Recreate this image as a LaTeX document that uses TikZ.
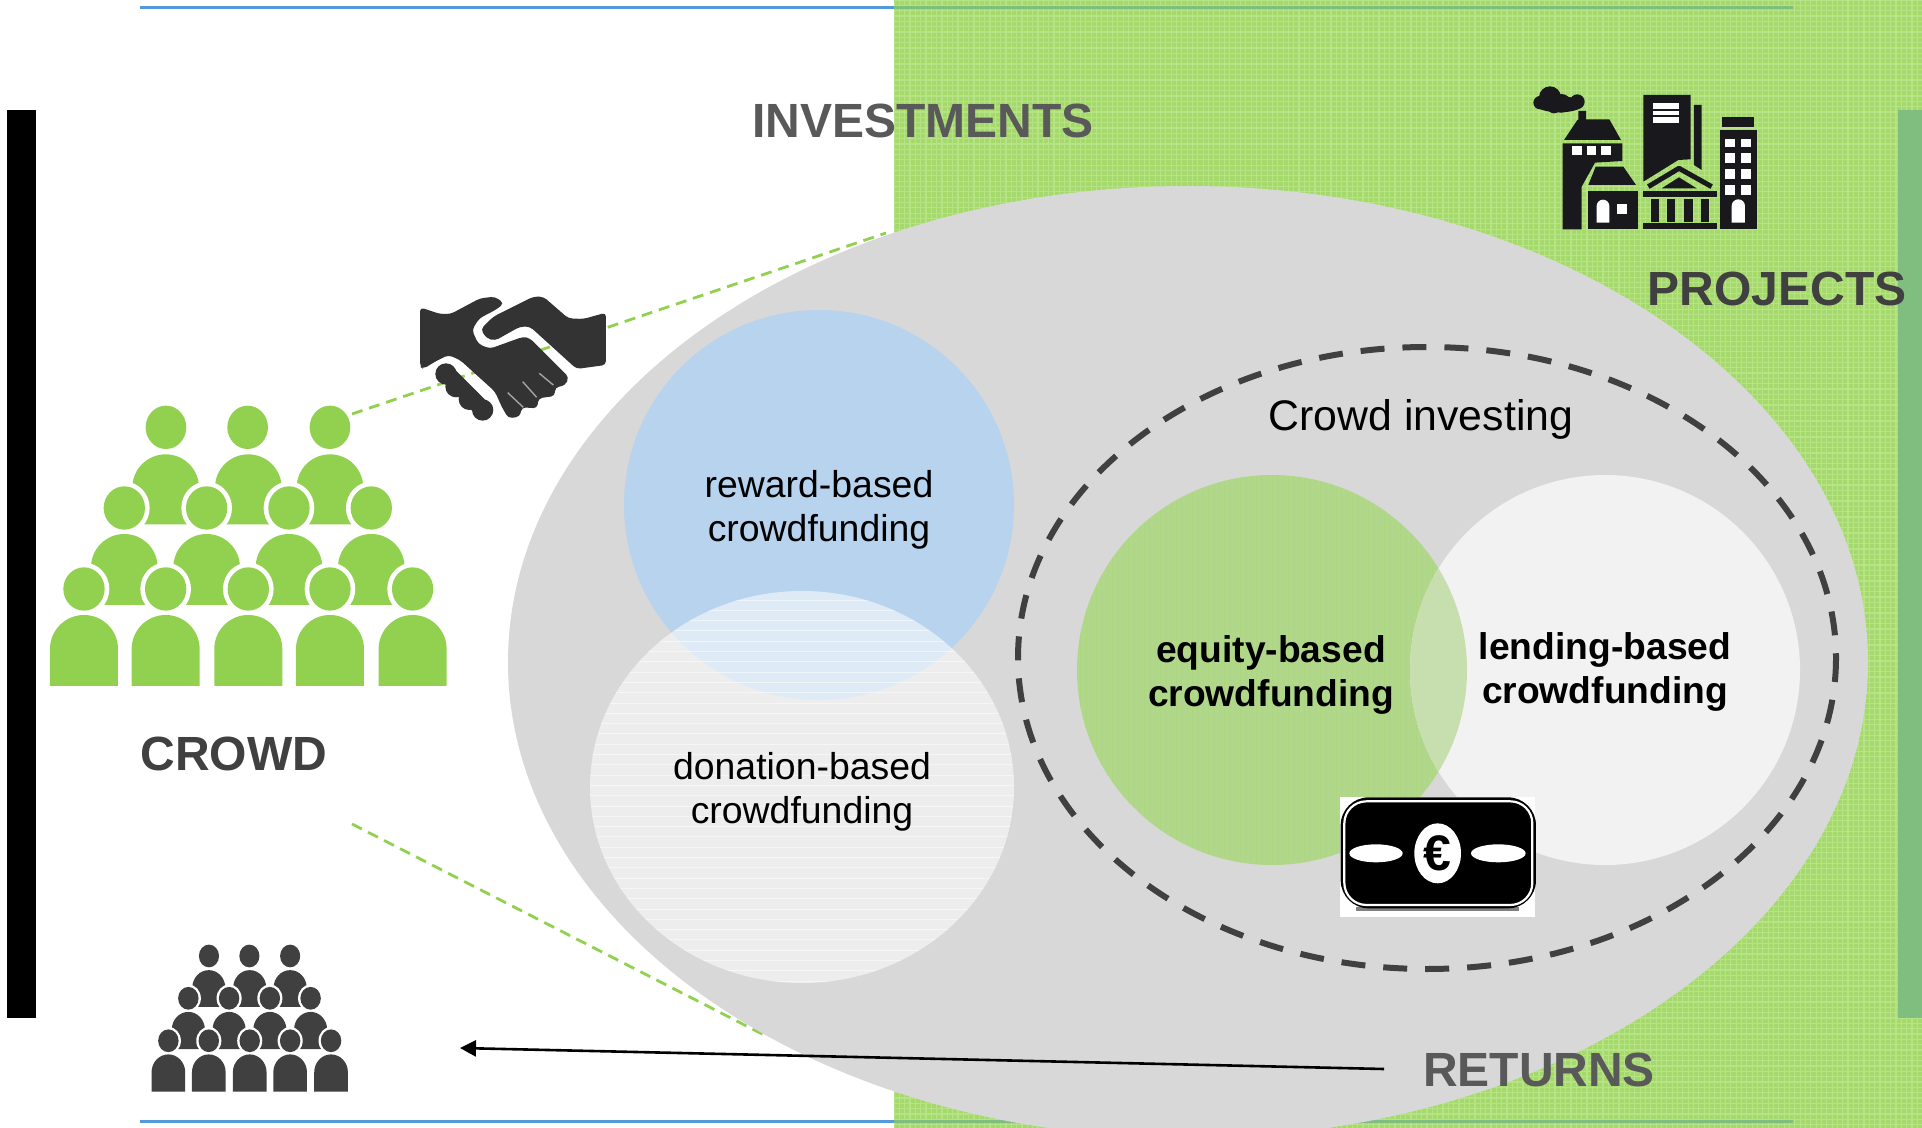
\documentclass[tikz,border=0pt]{standalone}
\usepackage{fontspec}
\setmainfont{Liberation Sans}
\usetikzlibrary{arrows.meta}
\definecolor{bggreen}{HTML}{A5D96B}
\definecolor{gridgreen}{HTML}{B6E386}
\definecolor{bardark}{HTML}{7FBE7F}
\definecolor{crowdgreen}{HTML}{92D050}
\definecolor{ellgrey}{HTML}{D8D8D8}
\definecolor{blueC}{HTML}{B7D3EE}
\definecolor{equityC}{HTML}{B1D78B}
\definecolor{overlapC}{HTML}{C7DEAE}
\definecolor{lendC}{HTML}{F2F2F2}
\definecolor{lineblue}{HTML}{5599DD}
\definecolor{txtA}{HTML}{595959}
\definecolor{txtB}{HTML}{404040}
\definecolor{iconK}{HTML}{19191D}
\definecolor{shake}{HTML}{333333}
\tikzset{
  bigtitle/.style={font=\fontsize{24}{28}\selectfont\bfseries, inner sep=0pt},
  circtext/.style={font=\fontsize{18.7}{22.2}\selectfont, align=center, inner sep=0pt, text=black},
  boldtext/.style={font=\fontsize{18.6}{22.2}\selectfont\bfseries, align=center, inner sep=0pt, text=black},
  greendash/.style={draw=crowdgreen, line width=1.4pt, dash pattern=on 5.5pt off 3.5pt},
  whitebit/.style={fill=white, draw=none},
  iconfill/.style={fill=iconK, draw=none}
}
\newcommand\crowdicon[1]{%
  \foreach \cx in {497,745,990} {
    \fill[#1] (\cx-100,403) -- (\cx-100,293) arc[start angle=180,end angle=360,radius=100] -- (\cx+100,403) -- cycle;
  }
  \foreach \cx in {498,743,990} { \fill[#1] (\cx,112) ellipse[x radius=61,y radius=65]; }
  \foreach \cx in {373,620,867,1114} {
    \fill[white] (\cx,354) ellipse[x radius=76,y radius=79];
  }
  \foreach \cx in {373,620,867,1114} {
    \fill[#1] (\cx,354) ellipse[x radius=62,y radius=65];
    \fill[#1] (\cx-100,645) -- (\cx-100,532) arc[start angle=180,end angle=360,radius=100] -- (\cx+100,645) -- cycle;
  }
  \foreach \cx in {252,497,745,990,1238} {
    \fill[white] (\cx,597) ellipse[x radius=76,y radius=79];
  }
  \foreach \cx in {252,497,745,990,1238} {
    \fill[#1] (\cx,597) ellipse[x radius=62,y radius=65];
    \fill[#1] (\cx-102,888) -- (\cx-102,777) arc[start angle=180,end angle=360,radius=102] -- (\cx+102,888) -- cycle;
  }
}
\begin{document}
\begin{tikzpicture}[x=0.5pt,y=-0.5pt]
\useasboundingbox (0,0) rectangle (1922,1128);
\clip (0,0) rectangle (1922,1128);
\fill[white] (0,0) rectangle (1922,1128);
% green field
\fill[bggreen] (894,0) rectangle (1922,1128);
\begin{scope}
  \clip (894,0) rectangle (1922,1128);
  \foreach \i in {0,...,193} { \draw[gridgreen,line width=0.6pt] (894+\i*5.33,0) -- (894+\i*5.33,1128); }
  \foreach \i in {0,...,212} { \draw[gridgreen,line width=0.6pt] (894,\i*5.33) -- (1922,\i*5.33); }
\end{scope}
\fill[bardark] (1898,110) rectangle (1922,1018);
\fill[black] (7,110) rectangle (36,1018);
% rules
\coordinate (topA) at (140,8); \coordinate (topB) at (894,8); \coordinate (topC) at (1793,8);
\coordinate (botA) at (140,1121); \coordinate (botB) at (894,1121); \coordinate (botC) at (1793,1121);
\draw[lineblue,line width=1.5pt] (topA) -- (topB);
\draw[bardark,line width=1.5pt] (topB) -- (topC);
\draw[lineblue,line width=1.5pt] (botA) -- (botB);
\draw[bardark,line width=1.5pt] (botB) -- (botC);
% green dashed connectors
\coordinate (dashA) at (352,414); \coordinate (dashB) at (886,233);
\coordinate (dashC) at (352,824); \coordinate (dashD) at (768,1037);
\draw[greendash] (dashA) -- (dashB);
\draw[greendash] (dashC) -- (dashD);
% big ellipse
\fill[ellgrey] (1188,662) ellipse[x radius=680,y radius=476];
% blue + donation
\fill[blueC] (819,505) circle[radius=195];
\begin{scope}
  \clip (802,787) ellipse[x radius=212,y radius=196];
  \fill[white,opacity=.55] (580,580) rectangle (1020,990);
  \foreach \i in {0,...,40} { \draw[white,opacity=.5,line width=0.5pt] (580,600+\i*10.3) -- (1020,600+\i*10.3); }
\end{scope}
% equity + lending
\fill[equityC] (1272,670) circle[radius=195];
\begin{scope}
  \clip (1272,670) circle[radius=195];
  \foreach \i in {0,...,73} { \draw[bggreen,opacity=.35,line width=0.5pt] (1070+\i*5.33,470) -- (1070+\i*5.33,870); }
\end{scope}
\fill[lendC] (1605,670) circle[radius=195];
\begin{scope}
  \clip (1272,670) circle[radius=195];
  \fill[overlapC] (1605,670) circle[radius=195];
\end{scope}
% dashed ellipse
\draw[txtB,line width=3pt,dash pattern=on 12pt off 9pt] (1427,658) ellipse[x radius=409,y radius=311];
% texts
\node[bigtitle,text=txtA] (inv) at (923,121) {INVESTMENTS};
\node[bigtitle,text=txtB] (proj) at (1777,289) {PROJECTS};
\node[bigtitle,text=txtB] (crowd) at (234,754) {CROWD};
\node[bigtitle,text=txtA] (ret) at (1539,1070) {RETURNS};
\node[circtext] (rew) at (819,510) {reward-based\\crowdfunding};
\node[circtext] (don) at (802,792) {donation-based\\crowdfunding};
\node[boldtext] (eq) at (1271,675) {equity-based\\crowdfunding};
\node[boldtext] (len) at (1605,672) {lending-based\\crowdfunding};
\node[inner sep=0pt,font=\fontsize{21.4}{25}\selectfont,text=black] (ci) at (1421,419) {Crowd investing};
% return arrow
\coordinate (arrS) at (1384,1069); \coordinate (arrE) at (460,1048);
\draw[black,line width=1.3pt,-{Triangle[length=8pt,width=8pt]}] (arrS) -- (arrE);
% crowds
\begin{scope}[shift={(0,390)},scale=0.3333]
  \crowdicon{crowdgreen}
\end{scope}
\begin{scope}[shift={(126.8,936.4)},xscale=0.165,yscale=0.1748]
  \crowdicon{txtB}
\end{scope}
% handshake
\begin{scope}[shift={(380,270)},scale=0.3333]
  \fill[shake,rounded corners=2pt] (120,112) -- (180,132) -- (212,132) -- (300,85) -- (345,80) -- (372,100) -- (350,118) -- (298,145) -- (276,180) -- (295,222) -- (330,236) -- (430,200) -- (450,205) -- (567,322) -- (555,347) -- (525,352) -- (525,378) -- (475,385) -- (472,415) -- (425,412) -- (420,440) -- (385,445) -- (365,410) -- (345,365) -- (240,270) -- (205,255) -- (165,275) -- (130,297) -- (120,290) -- cycle;
  \fill[shake,rounded corners=2pt] (302,178) -- (340,140) -- (460,80) -- (490,80) -- (565,145) -- (610,147) -- (678,128) -- (678,285) -- (640,290) -- (590,297) -- (450,170) -- (420,170) -- (345,212) -- (320,205) -- cycle;
  \draw[shake,line width=8.5pt,line cap=round] (200,310) -- (308,418);
  \foreach \px/\py in {198/312,228/350,268/388,308/420} { \fill[shake] (\px,\py) circle[radius=32]; }
  \draw[white,opacity=.55,line width=.7pt] (478,310) -- (520,345);
  \draw[white,opacity=.55,line width=.7pt] (428,335) -- (470,382);
  \draw[white,opacity=.55,line width=.7pt] (383,368) -- (430,412);
\end{scope}
% buildings
\begin{scope}[shift={(1480,60)},scale=0.3333]
  \foreach \px/\py/\pr in {210/112/33,180/128/20,245/130/28,292/125/22,222/140/20} { \fill[iconK] (\px,\py) circle[radius=\pr]; }
  \fill[iconK] (238,133) ellipse[x radius=72,y radius=24];
  \fill[iconfill] (252,240) -- (292,180) -- (295,180) -- (295,153) -- (318,153) -- (318,178) -- (388,178) -- (423,240) -- cycle;
  \fill[iconfill] (248,250) -- (427,250) -- (427,303) -- (345,308) -- (305,380) -- (305,508) -- (248,508) -- cycle;
  \foreach \wx in {276,320,363} { \fill[whitebit] (\wx,258) rectangle (\wx+29,286); }
  \fill[iconfill] (325,375) -- (347,320) -- (430,320) -- (468,375) -- cycle;
  \fill[iconfill] (323,392) rectangle (475,508);
  \fill[whitebit] (350,488) -- (350,438) arc[start angle=180,end angle=360,radius=19] -- (388,488) -- cycle;
  \fill[whitebit] (410,433) rectangle (440,462);
  \fill[iconfill] (490,105) -- (632,105) -- (632,298) -- (595,300) -- (490,365) -- cycle;
  \foreach \sy/\sh in {130/18,152/14,172/16} { \fill[whitebit] (520,\sy) rectangle (597,\sy+\sh); }
  \fill[iconfill] (642,135) -- (665,135) -- (665,330) -- (642,315) -- cycle;
  \draw[iconK,line width=2.5pt,line join=round] (505,380) -- (597,325) -- (695,380);
  \fill[iconfill] (545,385) -- (597,352) -- (650,385) -- cycle;
  \fill[iconfill] (490,392) rectangle (710,412);
  \foreach \cx in {512,560,612,662} { \fill[iconfill] (\cx,418) rectangle (\cx+26,485); }
  \fill[iconfill] (490,490) rectangle (710,508);
  \fill[iconfill] (727,170) rectangle (822,200);
  \fill[iconfill] (720,210) rectangle (830,508);
  \foreach \wy/\wh in {237/25,280/28,328/28,376/29} {
    \foreach \wx in {735,783} { \fill[whitebit] (\wx,\wy) rectangle (\wx+30,\wy+\wh); }
  }
  \fill[whitebit] (755,488) -- (755,438) arc[start angle=180,end angle=360,radius=20] -- (795,488) -- cycle;
\end{scope}
% euro note
\begin{scope}[shift={(1310,770)},scale=0.3333]
  \fill[white] (90,80) rectangle (675,440);
  \fill[gray] (138,410) rectangle (628,423);
  \fill[black,rounded corners=14pt] (92,82) rectangle (678,415);
  \draw[white,line width=1.1pt,rounded corners=11pt] (103,94) rectangle (667,405);
  \fill[white] (198,250) ellipse[x radius=80,y radius=27];
  \fill[white] (565,250) ellipse[x radius=82,y radius=27];
  \fill[white] (383,250) ellipse[x radius=70,y radius=90];
  \node[inner sep=0pt,text=black,font=\fontsize{25}{25}\selectfont\bfseries] (euro) at (383,250) {€};
\end{scope}
\end{tikzpicture}
\end{document}
